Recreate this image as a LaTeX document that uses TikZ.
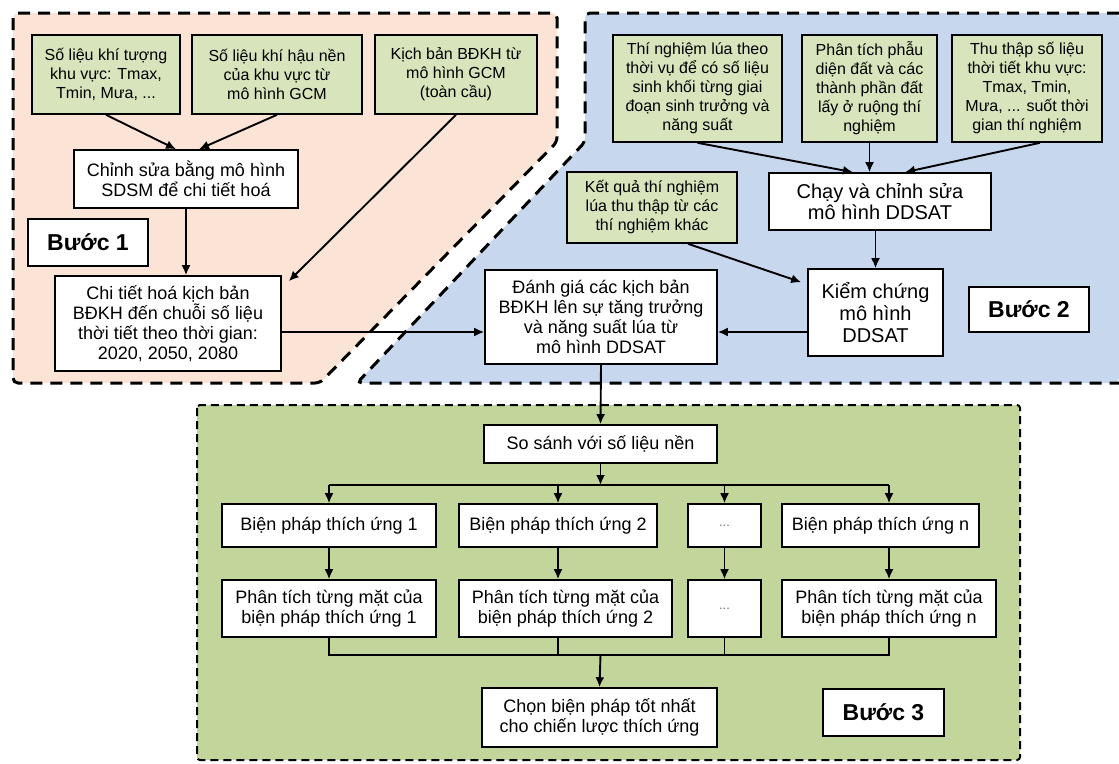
\documentclass[tikz,border=0pt]{standalone}
\usepackage{fontspec}
\setmainfont{Liberation Sans}
\usetikzlibrary{arrows.meta}

\definecolor{stepone}{RGB}{251,228,213}
\definecolor{steptwo}{RGB}{198,215,238}
\definecolor{stepthree}{RGB}{194,214,155}
\definecolor{datagreen}{RGB}{216,228,188}

\begin{document}
\begin{tikzpicture}[x=1pt, y=-1pt,
    region/.style={dash pattern=on 12pt off 8pt, line width=3pt, rounded corners=5pt},
    datanode/.style={draw, line width=1.6pt, fill=datagreen, align=center, inner sep=2pt,
      font=\fontsize{16}{19}\selectfont},
    procnode/.style={draw, line width=1.6pt, fill=white, align=center, inner sep=2pt,
      font=\fontsize{18}{20}\selectfont},
    steplabel/.style={draw, line width=1.6pt, fill=white, font=\fontsize{23}{25}\selectfont\bfseries},
    flow/.style={line width=1.9pt, -{Latex[length=10pt,width=9pt]}},
    bus/.style={line width=1.9pt},
    gap/.style={text=black!55, font=\fontsize{13}{15}\selectfont}]
\useasboundingbox (0,0) rectangle (1119,763);
% shaded areas of the three steps
    \fill[stepone, rounded corners=5pt] (13,13) -- (557,13) -- (557,142) -- (320,383) -- (13,383) -- cycle;
    \draw[region] (13,13) -- (557,13) -- (557,142) -- (320,383) -- (13,383) -- cycle;
    \fill[steptwo, rounded corners=5pt] (1119,13) -- (585,13) -- (585,142) -- (357,383) -- (1119,383) -- cycle;
    \draw[region] (1119,13) -- (585,13) -- (585,142) -- (357,383) -- (1119,383);
    \draw[fill=stepthree, dash pattern=on 8pt off 5pt, line width=2pt, rounded corners=3pt]
      (197,405) rectangle (1020,760);
% step 1
    \node[datanode, minimum width=148, minimum height=79] (khituong) at (106,74.5)
      {Số liệu khí tượng\\khu vực: Tmax,\\Tmin, Mưa, ...};
    \node[datanode, minimum width=170, minimum height=79] (khihau) at (277,74.5)
      {Số liệu khí hậu nền\\của khu vực từ\\mô hình GCM};
    \node[datanode, minimum width=162, minimum height=79] (gcm) at (456,74.5)
      {Kịch bản BĐKH từ\\mô hình GCM\\(toàn cầu)};
    \node[procnode, minimum width=224, minimum height=58] (sdsm) at (186,179)
      {Chỉnh sửa bằng mô hình\\SDSM để chi tiết hoá};
    \node[steplabel, minimum width=120, minimum height=47] (buoc1) at (88,242.5) {Bước 1};
    \node[procnode, minimum width=226, minimum height=95] (chitiet) at (168,323.5)
      {Chi tiết hoá kịch bản\\BĐKH đến chuỗi số liệu\\thời tiết theo thời gian:\\2020, 2050, 2080};
% step 2
    \node[datanode, minimum width=169, minimum height=107] (thoivu) at (697.5,88.5)
      {Thí nghiệm lúa theo\\thời vụ để có số liệu\\sinh khối từng giai\\đoạn sinh trưởng và\\năng suất};
    \node[datanode, minimum width=135, minimum height=107] (phaudien) at (869.5,88.5)
      {Phân tích phẫu\\diện đất và các\\thành phần đất\\lấy ở ruộng thí\\nghiệm};
    \node[datanode, minimum width=150, minimum height=107] (thoitiet) at (1027,88.5)
      {Thu thập số liệu\\thời tiết khu vực:\\Tmax, Tmin,\\Mưa, ... suốt thời\\gian thí nghiệm};
    \node[datanode, minimum width=170, minimum height=71] (ketqua) at (652,207.5)
      {Kết quả thí nghiệm\\lúa thu thập từ các\\thí nghiệm khác};
    \node[procnode, font=\fontsize{20}{21}\selectfont, minimum width=222, minimum height=57] (chay) at (880,201.5)
      {Chạy và chỉnh sửa\\mô hình DDSAT};
    \node[procnode, font=\fontsize{20}{22}\selectfont, minimum width=135, minimum height=87] (kiemchung) at (875.5,312.5)
      {Kiểm chứng\\mô hình\\DDSAT};
    \node[steplabel, minimum width=120, minimum height=45] (buoc2) at (1029,309.5) {Bước 2};
    \node[procnode, minimum width=232, minimum height=94] (danhgia) at (601,317)
      {Đánh giá các kịch bản\\BĐKH lên sự tăng trưởng\\và năng suất lúa từ\\mô hình DDSAT};
% step 3
    \node[procnode, minimum width=233, minimum height=38] (sosanh) at (600.5,444) {So sánh với số liệu nền};
    \node[procnode, minimum width=214, minimum height=43] (bp1) at (329,525.5) {Biện pháp thích ứng 1};
    \node[procnode, minimum width=198, minimum height=43] (bp2) at (558,525.5) {Biện pháp thích ứng 2};
    \node[procnode, gap, minimum width=73, minimum height=43] (bpx) at (724.5,525.5) {...};
    \node[procnode, minimum width=197, minimum height=43] (bpn) at (880.5,525.5) {Biện pháp thích ứng n};
    \node[procnode, minimum width=214, minimum height=57] (pt1) at (329,608.5)
      {Phân tích từng mặt của\\biện pháp thích ứng 1};
    \node[procnode, minimum width=213, minimum height=57] (pt2) at (565.5,608.5)
      {Phân tích từng mặt của\\biện pháp thích ứng 2};
    \node[procnode, gap, minimum width=73, minimum height=57] (ptx) at (724.5,608.5) {...};
    \node[procnode, minimum width=214, minimum height=57] (ptn) at (889,608.5)
      {Phân tích từng mặt của\\biện pháp thích ứng n};
    \node[procnode, minimum width=235, minimum height=59] (chon) at (599.5,717.5)
      {Chọn biện pháp tốt nhất\\cho chiến lược thích ứng};
    \node[steplabel, minimum width=121, minimum height=47] (buoc3) at (883.5,712.5) {Bước 3};
    \coordinate (tach) at (600.5,485);  % fork above the measures
    \coordinate (gop) at (600.5,655);   % join below the analyses
% arrows of step 1
    \draw[flow] (khituong.south) -- ([xshift=-10]sdsm.north);
    \draw[flow] (khihau.south) -- ([xshift=13]sdsm.north);
    \draw[flow] (sdsm.south) -- (sdsm.south |- chitiet.north);
    \draw[flow] (gcm.south) -- ([shift={(7,6)}]chitiet.north east);
    \draw[flow] ([yshift=-8.5]chitiet.east) -- ([yshift=-8.5]chitiet.east -| danhgia.west);
% arrows of step 2
    \draw[flow] (thoivu.south) -- ([xshift=-27]chay.north);
    \draw[flow] (phaudien.south) -- (phaudien.south |- chay.north);
    \draw[flow] ([xshift=13]thoitiet.south) -- ([xshift=25]chay.north);
    \draw[flow] (kiemchung.north |- chay.south) -- (kiemchung.north);
    \draw[flow] ([xshift=36]ketqua.south) -- ([shift={(-6,14)}]kiemchung.north west);
    \draw[flow] ([yshift=-19.5]kiemchung.west) -- ([yshift=-19.5]kiemchung.west -| danhgia.east);
    \draw[flow] (danhgia.south) -- (sosanh.north);
% arrows of step 3
    \draw[flow] (sosanh.south) -- (tach);
    \draw[bus] (tach -| bp1) -- (tach -| ptn);
    \draw[flow] (tach -| bp1) -- (bp1.north);
    \draw[flow] (tach -| bp2) -- (bp2.north);
    \draw[flow] (tach -| bpx) -- (bpx.north);
    \draw[flow] (tach -| ptn) -- (ptn |- bpn.north);
    \draw[flow] (bp1.south) -- (pt1.north -| bp1);
    \draw[flow] (bp2.south) -- (pt2.north -| bp2);
    \draw[flow] (bpx.south) -- (ptx.north);
    \draw[flow] (bpn.south -| ptn) -- (ptn.north);
    \draw[bus] (pt1.south -| bp1) -- (gop -| bp1) -- (gop -| ptn) -- (ptn.south);
    \draw[bus] (pt2.south -| bp2) -- (gop -| bp2);
    \draw[bus] (ptx.south) -- (gop -| ptx);
    \draw[flow] (gop) -- (chon.north);
\end{tikzpicture}
\end{document}
